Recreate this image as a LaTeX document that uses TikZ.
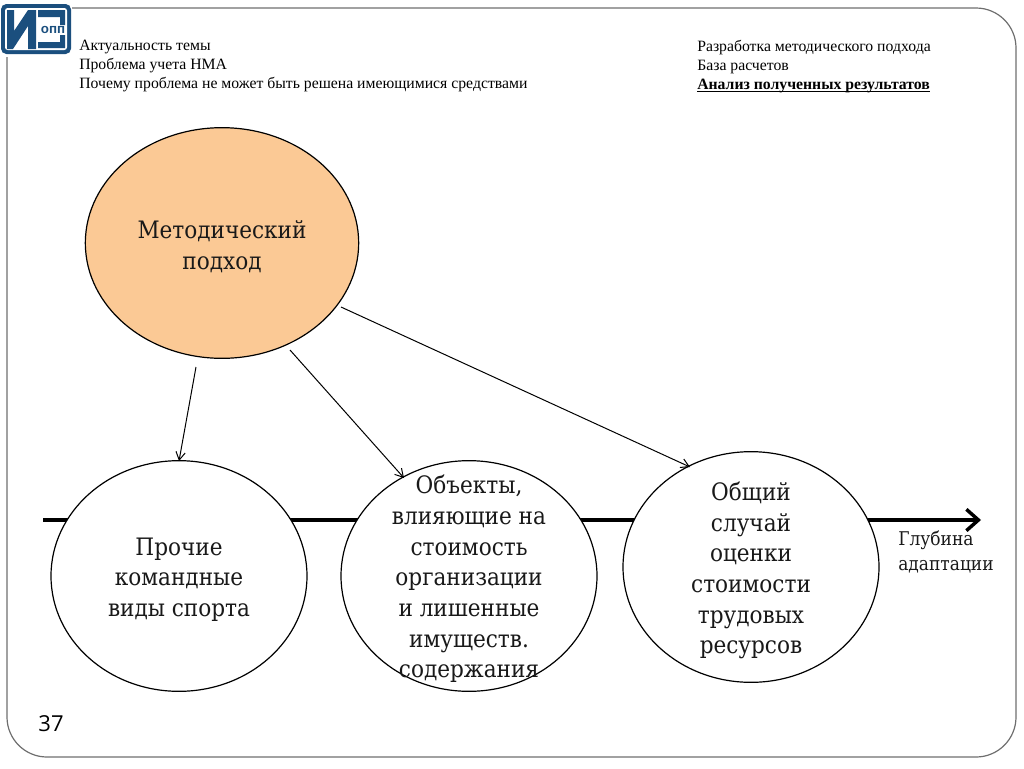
\documentclass[tikz,border=0pt]{standalone}
\usepackage{fontspec}
\setmainfont{Liberation Serif}
\newfontfamily\bodyfont{DejaVu Serif Condensed}
\newfontfamily\numfont{Open Sans}
\newfontfamily\logofont{Liberation Sans}
\usetikzlibrary{arrows.meta,shapes.geometric}
\definecolor{logoblue}{HTML}{1B4F7E}
\definecolor{peach}{HTML}{FBC995}
\definecolor{framegray}{HTML}{6E6E6E}
\newcommand\lineunder[1]{\setbox0\hbox{#1}\rlap{\rule[-1.8pt]{\wd0}{0.8pt}}\box0}
\tikzset{
 x=0.75pt,y=-0.75pt,
 bubble/.style={ellipse,draw=black,line width=0.9pt,fill=white,minimum width=192pt,minimum height=173pt,inner sep=0pt},
 bubbletext/.style={inner sep=0pt,align=center,font=\bodyfont\fontsize{18}{23}\selectfont,text=black!90},
 thinarrow/.style={draw=black,line width=0.75pt,-{Straight Barb[length=6pt,width=7pt]}},
 toptext/.style={anchor=north west,inner sep=0pt,align=left,font=\fontsize{11.8}{14.25}\selectfont},
 sidetext/.style={anchor=north west,inner sep=0pt,align=left,font=\bodyfont\fontsize{14.2}{18.75}\selectfont,text=black!90}
}
\begin{document}
\begin{tikzpicture}
\useasboundingbox (0,0) rectangle (1024,768);
\draw[framegray,line width=0.9pt,rounded corners=30pt] (7,8) rectangle (1016,757);
% logo
\fill[white] (0,0) rectangle (72,57);
\fill[logoblue,rounded corners=4pt] (1,4) rectangle (71,54);
\fill[white,rounded corners=2pt] (5,8) rectangle (67,50);
\fill[logoblue] (7,10) -- (14,10) -- (14,31) -- (28,10) -- (36,10) -- (36,49) -- (28,49) -- (28,26) -- (13,49) -- (7,49) -- cycle;
\fill[logoblue] (38,10) -- (65,10) -- (65,25) -- (60,25) -- (60,17) -- (38,17) -- cycle;
\fill[logoblue] (38,42) -- (60,42) -- (60,35) -- (65,35) -- (65,48) -- (38,48) -- cycle;
\node[inner sep=0pt,font=\logofont\bfseries\fontsize{10}{10}\selectfont,text=logoblue] (logotext) at (53,30) {опп};
% header
\node[toptext] (lefthead) at (79,40) {Актуальность темы\\Проблема учета НМА\\Почему проблема не может быть решена имеющимися средствами};
\node[toptext] (righthead) at (697,40) {Разработка методического подхода\\База расчетов\\\lineunder{\textbf{Анализ полученных результатов}}};
% axis
\coordinate (axisstart) at (43,520);
\coordinate (axisend) at (981,520);
\draw[line width=3.4pt,black,-{Straight Barb[length=9pt,width=16pt,line width=2.6pt]}] (axisstart) -- (axisend);
% nodes
\node[bubble,fill=peach,minimum width=205pt,minimum height=173pt] (method) at (222,243) {};
\node[bubble] (other) at (179,576) {};
\node[bubble] (objects) at (469,576) {};
\node[bubble] (general) at (751,567) {};
\node[bubbletext] (methodtext) at ([yshift=-2.7pt]method.center) {Методический\\подход};
\node[bubbletext] (othertext) at ([yshift=-2.7pt]other.center) {Прочие\\командные\\виды спорта};
\node[bubbletext] (objectstext) at ([yshift=-2.3pt]objects.center) {Объекты,\\влияющие на\\стоимость\\организации\\и лишенные\\имуществ.\\содержания};
\node[bubbletext] (generaltext) at ([yshift=-2.7pt]general.center) {Общий\\случай\\оценки\\стоимости\\трудовых\\ресурсов};
% connectors
\coordinate (a1) at (196,367);
\coordinate (a2) at (290,350);
\coordinate (a3) at (341,307);
\coordinate (b1) at (179,461);
\coordinate (b2) at (404,478);
\coordinate (b3) at (690,467);
\draw[thinarrow] (a1) -- (b1);
\draw[thinarrow] (a2) -- (b2);
\draw[thinarrow] (a3) -- (b3);
\node[sidetext] (depth) at (898,531) {Глубина\\адаптации};
\node[inner sep=0pt,font=\numfont\fontsize{16.5}{18}\selectfont] (pagenum) at (51,724) {37};
\end{tikzpicture}
\end{document}
